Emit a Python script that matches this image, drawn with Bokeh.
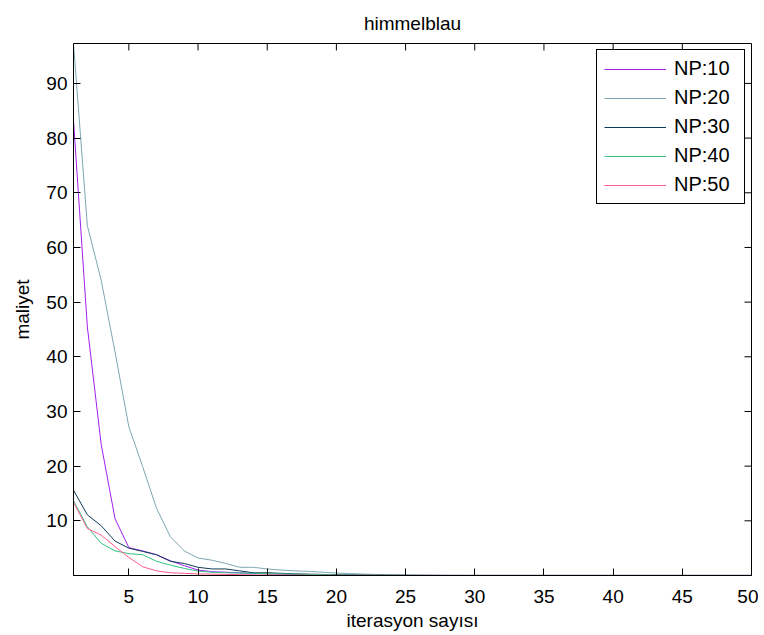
import math
from bokeh.plotting import figure
from bokeh.models import Range1d, FixedTicker, Legend, LegendItem
from bokeh.embed import file_html
from bokeh.resources import INLINE

iterations = list(range(1, 51))

np10 = [83.2, 45.5, 24.0, 10.4, 5.1, 4.5, 3.8, 2.7, 1.8, 1.0,
        0.7, 0.6, 0.5, 0.4, 0.3, 0.25, 0.2, 0.15, 0.12, 0.1,
        0.08, 0.06, 0.05, 0.04, 0.03, 0.02, 0.02, 0.01, 0.01, 0.01,
        0.01, 0.01, 0.01, 0.01, 0.01, 0.01, 0.01, 0.01, 0.01, 0.01,
        0.01, 0.01, 0.01, 0.01, 0.01, 0.01, 0.01, 0.01, 0.01, 0.01]
np20 = [97.3, 64.0, 54.0, 40.9, 27.2, 19.9, 12.3, 7.1, 4.5, 3.2,
        2.8, 2.2, 1.5, 1.5, 1.2, 1.0, 0.85, 0.75, 0.6, 0.45,
        0.35, 0.25, 0.18, 0.12, 0.06, 0.04, 0.03, 0.02, 0.02, 0.01,
        0.01, 0.01, 0.01, 0.01, 0.01, 0.01, 0.01, 0.01, 0.01, 0.01,
        0.01, 0.01, 0.01, 0.01, 0.01, 0.01, 0.01, 0.01, 0.01, 0.01]
np30 = [15.6, 11.1, 9.1, 6.3, 5.0, 4.4, 3.8, 2.6, 2.2, 1.5,
        1.2, 1.2, 0.85, 0.5, 0.5, 0.4, 0.3, 0.25, 0.2, 0.15,
        0.1, 0.08, 0.06, 0.05, 0.04, 0.03, 0.02, 0.02, 0.01, 0.01,
        0.01, 0.01, 0.01, 0.01, 0.01, 0.01, 0.01, 0.01, 0.01, 0.01,
        0.01, 0.01, 0.01, 0.01, 0.01, 0.01, 0.01, 0.01, 0.01, 0.01]
np40 = [13.7, 8.9, 5.9, 4.5, 4.0, 3.8, 2.6, 1.9, 1.3, 0.8,
        0.6, 0.5, 0.45, 0.4, 0.35, 0.3, 0.25, 0.2, 0.15, 0.1,
        0.08, 0.06, 0.05, 0.04, 0.03, 0.02, 0.02, 0.01, 0.01, 0.01,
        0.01, 0.01, 0.01, 0.01, 0.01, 0.01, 0.01, 0.01, 0.01, 0.01,
        0.01, 0.01, 0.01, 0.01, 0.01, 0.01, 0.01, 0.01, 0.01, 0.01]
np50 = [13.4, 8.6, 7.4, 5.3, 3.3, 1.6, 0.85, 0.5, 0.4, 0.3,
        0.25, 0.2, 0.15, 0.12, 0.1, 0.08, 0.06, 0.05, 0.04, 0.03,
        0.02, 0.02, 0.01, 0.01, 0.01, 0.01, 0.01, 0.01, 0.01, 0.01,
        0.01, 0.01, 0.01, 0.01, 0.01, 0.01, 0.01, 0.01, 0.01, 0.01,
        0.01, 0.01, 0.01, 0.01, 0.01, 0.01, 0.01, 0.01, 0.01, 0.01]

series_labels = ["NP:10", "NP:20", "NP:30", "NP:40", "NP:50"]
series_values = [np10, np20, np30, np40, np50]
series_colors = ["#a020f0", "#7fa7b3", "#0f3b57", "#33c283", "#ff5b8d"]

x_ticks = [5, 10, 15, 20, 25, 30, 35, 40, 45, 50]
y_ticks = [10, 20, 30, 40, 50, 60, 70, 80, 90]
x_min, x_max = 1, 50
y_min, y_max = 0, 97.3

FONT = "Liberation Sans"
FS = "19px"

p = figure(width=758, height=633, output_backend="svg", toolbar_location=None,
           x_range=Range1d(x_min, x_max), y_range=Range1d(y_min, y_max),
           min_border_left=73, min_border_right=7, min_border_top=40,
           min_border_bottom=58, title="himmelblau")

p.title.text_font = FONT
p.title.text_font_size = FS
p.title.text_font_style = "normal"
p.title.align = "center"
p.title.text_color = "black"
p.title.standoff = 20

p.xgrid.visible = False
p.ygrid.visible = False
p.outline_line_color = "black"
p.outline_line_alpha = 1
p.outline_line_width = 1

def style_axis(ax, ticks):
    ax.ticker = FixedTicker(ticks=ticks)
    ax.minor_tick_line_color = None
    ax.major_tick_in = 7
    ax.major_tick_out = 0
    ax.axis_line_color = "black"
    ax.major_tick_line_color = "black"
    ax.major_label_text_font = FONT
    ax.major_label_text_font_size = FS
    ax.major_label_text_color = "black"
    ax.axis_label_text_font = FONT
    ax.axis_label_text_font_size = FS
    ax.axis_label_text_font_style = "normal"
    ax.axis_label_text_color = "black"

style_axis(p.xaxis[0], x_ticks)
style_axis(p.yaxis[0], y_ticks)
p.xaxis.axis_label = "iterasyon sayısı"
p.yaxis.axis_label = "maliyet"
p.xaxis.major_label_standoff = 14
p.xaxis.axis_label_standoff = 4
p.yaxis.major_label_standoff = 6
p.yaxis.axis_label_standoff = 10

# mirrored inward ticks on the top and right edges (box on)
p.ray(x=x_ticks, y=[y_max] * len(x_ticks), length=7, length_units="screen",
      angle=-math.pi / 2, line_color="black", line_width=1)
p.ray(x=[x_max] * len(y_ticks), y=y_ticks, length=7, length_units="screen",
      angle=math.pi, line_color="black", line_width=1)

items = []
for lab, vals, col in zip(series_labels, series_values, series_colors):
    r = p.line(iterations, vals, line_color=col, line_width=1)
    items.append(LegendItem(label=lab, renderers=[r]))

legend = Legend(items=items, location=(523, 371))
legend.border_line_color = "black"
legend.border_line_width = 1
legend.border_line_alpha = 1
legend.background_fill_color = "white"
legend.background_fill_alpha = 1
legend.label_text_font = FONT
legend.label_text_font_size = "20px"
legend.label_text_color = "black"
legend.glyph_width = 62
legend.glyph_height = 22
legend.label_height = 22
legend.label_width = 63
legend.spacing = 6
legend.padding = 7
legend.margin = 0
legend.label_standoff = 8
p.add_layout(legend)

open("out.html", "w").write(file_html(p, INLINE))
